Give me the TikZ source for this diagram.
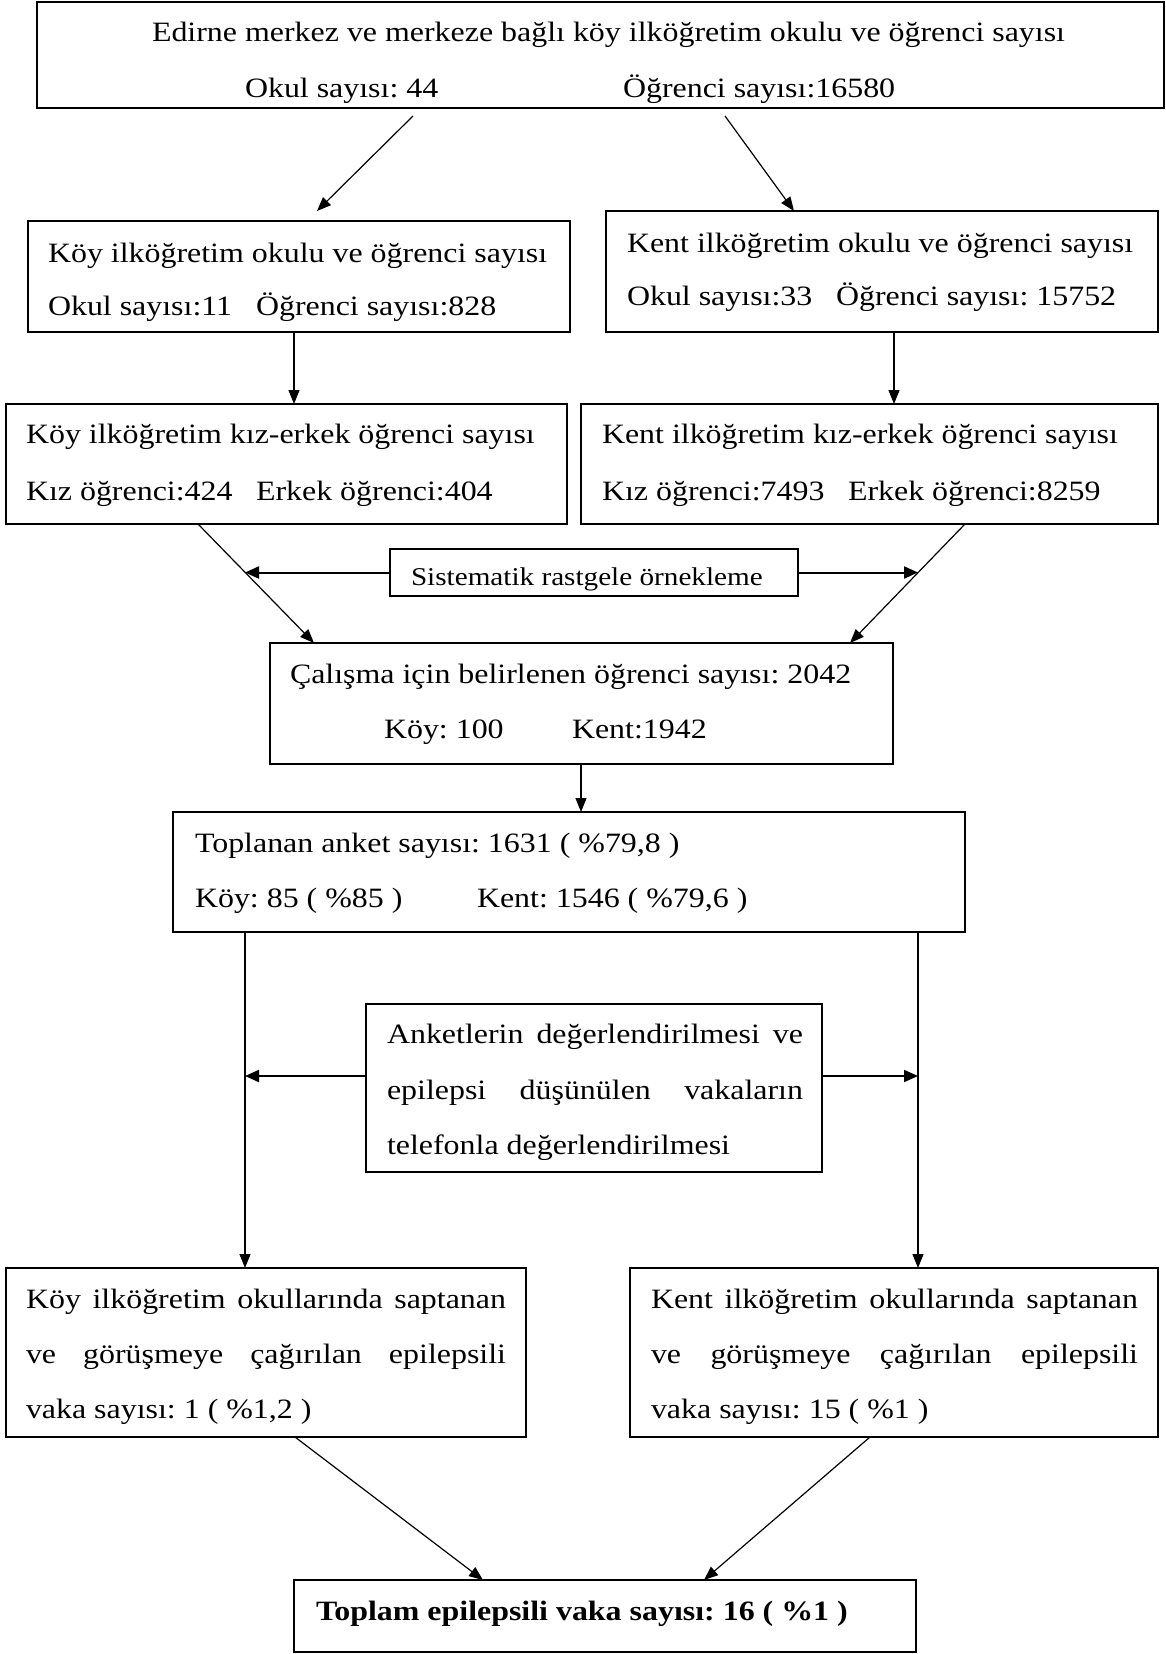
\documentclass[tikz,border=0pt]{standalone}
\usepackage{fontspec}
\setmainfont{Liberation Serif}[FakeStretch=1.14]
\usetikzlibrary{arrows.meta}
\frenchspacing
\begin{document}
\begin{tikzpicture}[x=1pt,y=-1pt,
  boxs/.style={draw, line width=1.8pt, inner sep=0pt, outer sep=0pt},
  txt/.style={anchor=base west, inner sep=0pt, outer sep=0pt, font=\fontsize{28}{34}\selectfont\frenchspacing},
  stxt/.style={txt, font=\fontsize{25.6}{30}\selectfont\frenchspacing},
  btxt/.style={txt, font=\fontsize{28}{34}\selectfont\bfseries\frenchspacing},
  arr/.style={line width=1.2pt, -{Triangle[length=14pt,width=11pt]}},
  harr/.style={line width=2pt, -{Triangle[length=14pt,width=12pt]}}]
\useasboundingbox (0,0) rectangle (1166,1654);
% boxes
\node[boxs, minimum width=1127pt, minimum height=106pt] (top) at (600.5,55) {};
\node[boxs, minimum width=542pt, minimum height=111pt] (koy1) at (299,276.5) {};
\node[boxs, minimum width=552pt, minimum height=121pt] (kent1) at (882,271.5) {};
\node[boxs, minimum width=561pt, minimum height=120pt] (koy2) at (286.5,464) {};
\node[boxs, minimum width=577pt, minimum height=120pt] (kent2) at (869.5,464) {};
\node[boxs, minimum width=408pt, minimum height=47pt] (sis) at (594,572.5) {};
\node[boxs, minimum width=623pt, minimum height=121pt] (cal) at (581.5,703.5) {};
\node[boxs, minimum width=792pt, minimum height=120pt] (tpl) at (569,872) {};
\node[boxs, minimum width=456pt, minimum height=168pt] (ank) at (594,1088) {};
\node[boxs, minimum width=520pt, minimum height=169pt] (koy3) at (266,1352.5) {};
\node[boxs, minimum width=528pt, minimum height=169pt] (kent3) at (894,1352.5) {};
\node[boxs, minimum width=622pt, minimum height=72pt] (tot) at (605,1616) {};
% texts
\node[txt] (t1) at (152,42) {Edirne merkez ve merkeze bağlı köy ilköğretim okulu ve öğrenci sayısı};
\node[txt] (t2) at (245,97) {Okul sayısı: 44};
\node[txt] (t3) at (623,97) {Öğrenci sayısı:16580};
\node[txt] (k1a) at (48,262) {Köy ilköğretim okulu ve öğrenci sayısı};
\node[txt] (k1b) at (48,315) {Okul sayısı:11};
\node[txt] (k1c) at (256,315) {Öğrenci sayısı:828};
\node[txt] (e1a) at (627,252) {Kent ilköğretim okulu ve öğrenci sayısı};
\node[txt] (e1b) at (627,305) {Okul sayısı:33};
\node[txt] (e1c) at (836,305) {Öğrenci sayısı: 15752};
\node[txt] (k2a) at (26,443) {Köy ilköğretim kız-erkek öğrenci sayısı};
\node[txt] (k2b) at (26,500) {Kız öğrenci:424};
\node[txt] (k2c) at (256,500) {Erkek öğrenci:404};
\node[txt] (e2a) at (602,443) {Kent ilköğretim kız-erkek öğrenci sayısı};
\node[txt] (e2b) at (602,500) {Kız öğrenci:7493};
\node[txt] (e2c) at (848,500) {Erkek öğrenci:8259};
\node[stxt] (st) at (411,585) {Sistematik rastgele örnekleme};
\node[txt] (ca) at (290,683) {Çalışma için belirlenen öğrenci sayısı: 2042};
\node[txt] (cb) at (384,738) {Köy: 100};
\node[txt] (cc) at (572,738) {Kent:1942};
\node[txt] (pa) at (195,852) {Toplanan anket sayısı: 1631 ( \%79,8 )};
\node[txt] (pb) at (195,907) {Köy: 85 ( \%85 )};
\node[txt] (pc) at (477,907) {Kent: 1546 ( \%79,6 )};
\node[txt] (na) at (387,1043) {\makebox[416pt][s]{Anketlerin değerlendirilmesi ve}};
\node[txt] (nb) at (387,1099) {\makebox[416pt][s]{epilepsi düşünülen vakaların}};
\node[txt] (nc) at (387,1154) {telefonla değerlendirilmesi};
\node[txt] (k3a) at (26,1308) {\makebox[480pt][s]{Köy ilköğretim okullarında saptanan}};
\node[txt] (k3b) at (26,1363) {\makebox[480pt][s]{ve görüşmeye çağırılan epilepsili}};
\node[txt] (k3c) at (26,1418) {vaka sayısı: 1 ( \%1,2 )};
\node[txt] (e3a) at (651,1308) {\makebox[487pt][s]{Kent ilköğretim okullarında saptanan}};
\node[txt] (e3b) at (651,1363) {\makebox[487pt][s]{ve görüşmeye çağırılan epilepsili}};
\node[txt] (e3c) at (651,1418) {vaka sayısı: 15 ( \%1 )};
\node[btxt] (tt) at (316,1620) {Toplam epilepsili vaka sayısı: 16 ( \%1 )};
% x positions
\coordinate (xa) at (413,0);
\coordinate (xb) at (317,0);
\coordinate (xc) at (725,0);
\coordinate (xd) at (794,0);
\coordinate (xe) at (294,0);
\coordinate (xf) at (894,0);
\coordinate (xg) at (198,0);
\coordinate (xh) at (314,0);
\coordinate (xi) at (965,0);
\coordinate (xj) at (850,0);
\coordinate (xk) at (581,0);
\coordinate (xl) at (245,0);
\coordinate (xm) at (918,0);
\coordinate (xn) at (295,0);
\coordinate (xo) at (483,0);
\coordinate (xp) at (870,0);
\coordinate (xq) at (704,0);
\coordinate (yh) at (0,1076);
% connectors
\draw[arr] ([yshift=-8pt]top.south -| xa) -- ([yshift=10pt]koy1.north -| xb);
\draw[arr] ([yshift=-8pt]top.south -| xc) -- (kent1.north -| xd);
\draw[arr] (koy1.south -| xe) -- (koy2.north -| xe);
\draw[arr] (kent1.south -| xf) -- (kent2.north -| xf);
\draw[arr] (koy2.south -| xg) -- (cal.north -| xh);
\draw[arr] (kent2.south -| xi) -- (cal.north -| xj);
\draw[harr] (sis.west) -- (sis.west -| xl);
\draw[harr] (sis.east) -- (sis.east -| xm);
\draw[arr] (cal.south -| xk) -- (tpl.north -| xk);
\draw[arr] (tpl.south -| xl) -- (koy3.north -| xl);
\draw[arr] (tpl.south -| xm) -- (kent3.north -| xm);
\draw[harr] (ank.west |- yh) -- (xl |- yh);
\draw[harr] (ank.east |- yh) -- (xm |- yh);
\draw[arr] (koy3.south -| xn) -- (tot.north -| xo);
\draw[arr] (kent3.south -| xp) -- (tot.north -| xq);
\end{tikzpicture}
\end{document}
